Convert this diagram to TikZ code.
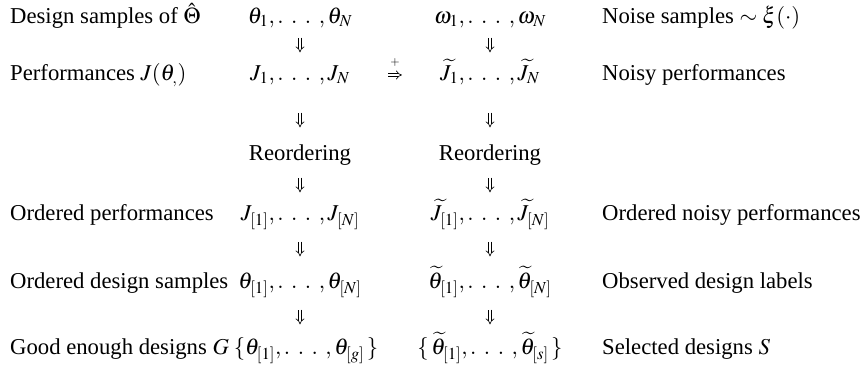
\documentclass[tikz,border=0pt]{standalone}
\usepackage{mathptmx}
\usepackage[no-math]{fontspec}
\setmainfont{Liberation Serif}
\usetikzlibrary{arrows.meta,calc}
\newcommand{\dts}{\mathinner{.\mkern6mu.\mkern6mu.\mkern4mu}}
\begin{document}
\begin{tikzpicture}[x=1pt,y=-1pt,
  txt/.style={inner sep=0pt, text height=16pt, text depth=5pt, font=\fontsize{22.7}{27}\selectfont},
  lbl/.style={txt, anchor=west},
  itm/.style={txt, anchor=center},
  darr/.style={double, double distance=2.4pt, line width=0.65pt, -{Implies}},
]
\useasboundingbox (0,0) rectangle (865,366);
% left labels
\node[lbl] (l1) at (10,18)  {Design samples of $\hat{\Theta}$};
\node[lbl] (l2) at (10,75)  {Performances $J(\theta_{,})$};
\node[lbl] (l4) at (10,215) {Ordered performances};
\node[lbl] (l5) at (10,283) {Ordered design samples};
\node[lbl] (l6) at (10,349) {Good enough designs $G$};
% column 2
\node[itm] (a1) at (300,18)  {$\theta_1, \dts, \theta_N$};
\node[itm] (a2) at (300,75)  {$J_1, \dts, J_N$};
\node[itm] (a3) at (300,155) {Reordering};
\node[itm] (a4) at (300,215) {$J_{[1]}, \dts, J_{[N]}$};
\node[itm] (a5) at (300,283) {$\theta_{[1]}, \dts, \theta_{[N]}$};
\node[itm] (a6) at (306,349) {$\{\theta_{[1]}, \dts, \theta_{[g]}\,\}$};
% column 3
\node[itm] (b1) at (490,18)  {$\omega_1, \dts, \omega_N$};
\node[itm] (b2) at (490,75)  {$\widetilde{J}_1, \dts, \widetilde{J}_N$};
\node[itm] (b3) at (490,155) {Reordering};
\node[itm] (b4) at (490,215) {$\widetilde{J}_{[1]}, \dts, \widetilde{J}_{[N]}$};
\node[itm] (b5) at (490,283) {$\widetilde{\theta}_{[1]}, \dts, \widetilde{\theta}_{[N]}$};
\node[itm] (b6) at (490,349) {$\{\,\widetilde{\theta}_{[1]}, \dts, \widetilde{\theta}_{[s]}\,\}$};
% right labels
\node[lbl] (r1) at (602,18)  {Noise samples $\sim\xi(\cdot)$};
\node[lbl] (r2) at (602,75)  {Noisy performances};
\node[lbl] (r4) at (602,215) {Ordered noisy performances};
\node[lbl] (r5) at (602,283) {Observed design labels};
\node[lbl] (r6) at (602,349) {Selected designs $S$};
% vertical arrows
\foreach \c in {a,b}{
  \draw[darr, shorten <=9pt,  shorten >=12pt] (\c1) -- (\c2);
  \draw[darr, shorten <=27pt, shorten >=17pt] (\c2) -- (\c3);
  \draw[darr, shorten <=12pt, shorten >=12pt] (\c3) -- (\c4);
  \draw[darr, shorten <=16pt, shorten >=16pt] (\c4) -- (\c5);
  \draw[darr, shorten <=16pt, shorten >=14pt] (\c5) -- (\c5 |- \c6.north);
}
% horizontal arrow with plus
\draw[darr, shorten <=38pt, shorten >=38pt] (a2) -- (b2);
\node[inner sep=0pt, font=\fontsize{12}{14}\selectfont] (plus) at (395,63) {$+$};
\end{tikzpicture}
\end{document}
